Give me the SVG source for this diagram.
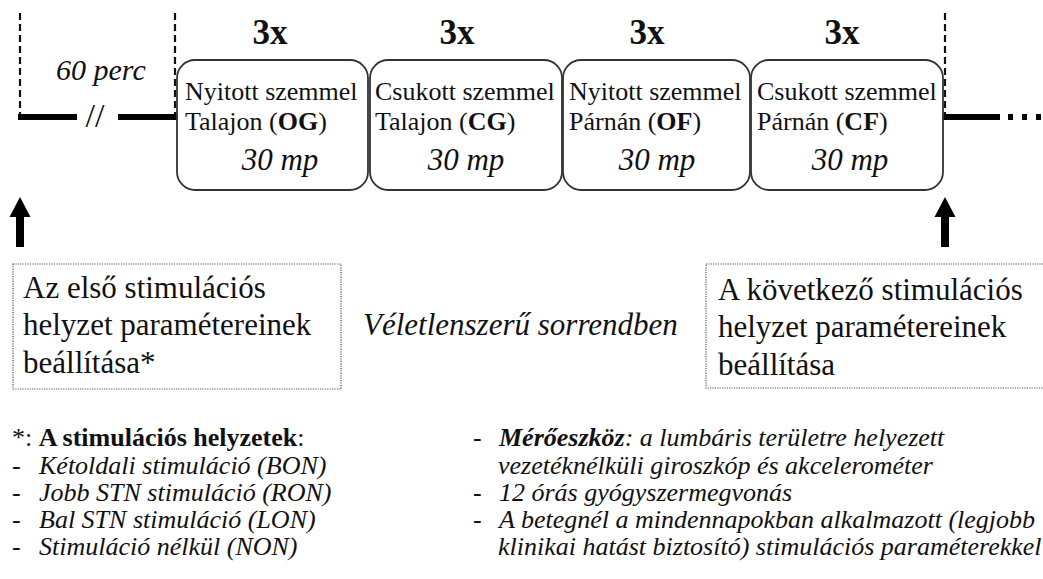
<svg xmlns="http://www.w3.org/2000/svg" width="1043" height="579" viewBox="0 0 1043 579" font-family="'Liberation Serif', serif">
<defs>
<style>
text{font-family:"Liberation Serif","Times New Roman",serif;fill:#111}
.rep{font-size:35px;font-weight:bold;text-anchor:middle}
.bt{font-size:26px}
.mp{font-size:31px;font-style:italic;text-anchor:middle}
.big{font-size:31px}
.it{font-style:italic}
.sm{font-size:26px}
.box{fill:#fff;stroke:#333;stroke-width:1.8}
.dotbox{fill:none;stroke:#555;stroke-width:1.2;stroke-dasharray:1.2 1.2}
.vdash{stroke:#111;stroke-width:2.2;stroke-dasharray:7 4}
.thick{stroke:#000;stroke-width:6}
.shaft{stroke:#000;stroke-width:8}
.head{fill:#000}
</style>
</defs>

<g id="connectors">
<line class="vdash" x1="20" y1="13" x2="20" y2="117"/>
<line class="vdash" x1="175" y1="13" x2="175" y2="117"/>
<line class="vdash" x1="945" y1="13" x2="945" y2="117"/>
<line class="thick" x1="18" y1="117" x2="77" y2="117"/>
<line class="thick" x1="118" y1="117" x2="177" y2="117"/>
<line class="thick" x1="943" y1="117" x2="1000" y2="117"/>
<line class="thick" x1="1008" y1="117" x2="1043" y2="117" stroke-dasharray="5 9"/>
<line class="shaft" x1="20" y1="247" x2="20" y2="214"/>
<path class="head" d="M9.5,217 L20,197 L30.5,217 Z"/>
<line class="shaft" x1="945" y1="247" x2="945" y2="214"/>
<path class="head" d="M934.5,217 L945,197 L955.5,217 Z"/>
</g>

<g id="gap">
<text x="56" y="80" class="it" font-size="30">60 perc</text>
<text x="95" y="127" font-size="34" text-anchor="middle">//</text>
</g>

<g id="node-og">
<text x="270" y="44" class="rep">3x</text>
<rect class="box" x="177" y="60" width="191" height="130" rx="18"/>
<text x="185" y="100" class="bt">Nyitott szemmel</text>
<text x="185" y="130" class="bt">Talajon (<tspan font-weight="bold">OG</tspan>)</text>
<text x="280" y="170" class="mp">30 mp</text>
</g>

<g id="node-cg">
<text x="457" y="44" class="rep">3x</text>
<rect class="box" x="370" y="60" width="192" height="130" rx="18"/>
<text x="375" y="100" class="bt">Csukott szemmel</text>
<text x="375" y="130" class="bt">Talajon (<tspan font-weight="bold">CG</tspan>)</text>
<text x="466" y="170" class="mp">30 mp</text>
</g>

<g id="node-of">
<text x="647" y="44" class="rep">3x</text>
<rect class="box" x="563" y="60" width="187" height="130" rx="18"/>
<text x="569" y="100" class="bt">Nyitott szemmel</text>
<text x="569" y="130" class="bt">Párnán (<tspan font-weight="bold">OF</tspan>)</text>
<text x="657" y="170" class="mp">30 mp</text>
</g>

<g id="node-cf">
<text x="842" y="44" class="rep">3x</text>
<rect class="box" x="751" y="60" width="192" height="130" rx="18"/>
<text x="757" y="100" class="bt">Csukott szemmel</text>
<text x="757" y="130" class="bt">Párnán (<tspan font-weight="bold">CF</tspan>)</text>
<text x="850" y="170" class="mp">30 mp</text>
</g>

<g id="node-first">
<rect class="dotbox" x="13" y="264" width="328" height="125"/>
<text x="23" y="298" class="big">Az első stimulációs</text>
<text x="23" y="335" class="big">helyzet paramétereinek</text>
<text x="23" y="373" class="big">beállítása*</text>
</g>

<g id="node-random">
<text x="363" y="335" class="big it">Véletlenszerű sorrendben</text>
</g>

<g id="node-next">
<rect class="dotbox" x="706" y="264" width="345" height="124"/>
<text x="718" y="300" class="big">A következő stimulációs</text>
<text x="718" y="337" class="big">helyzet paramétereinek</text>
<text x="718" y="375" class="big">beállítása</text>
</g>

<g id="notes-left" class="sm">
<text x="12" y="446">*: <tspan font-weight="bold">A stimulációs helyzetek</tspan>:</text>
<text x="12" y="474">-</text><text x="39" y="474" class="it">Kétoldali stimuláció (BON)</text>
<text x="12" y="501">-</text><text x="39" y="501" class="it">Jobb STN stimuláció (RON)</text>
<text x="12" y="528">-</text><text x="39" y="528" class="it">Bal STN stimuláció (LON)</text>
<text x="12" y="555">-</text><text x="39" y="555" class="it">Stimuláció nélkül (NON)</text>
</g>

<g id="notes-right" class="sm">
<text x="473" y="446">-</text><text x="499" y="446" class="it"><tspan font-weight="bold">Mérőeszköz</tspan>: a lumbáris területre helyezett</text>
<text x="498" y="474" class="it">vezetéknélküli giroszkóp és akcelerométer</text>
<text x="473" y="501">-</text><text x="499" y="501" class="it">12 órás gyógyszermegvonás</text>
<text x="473" y="528">-</text><text x="499" y="528" class="it">A betegnél a mindennapokban alkalmazott (legjobb</text>
<text x="498" y="555" class="it">klinikai hatást biztosító) stimulációs paraméterekkel</text>
</g>
</svg>
